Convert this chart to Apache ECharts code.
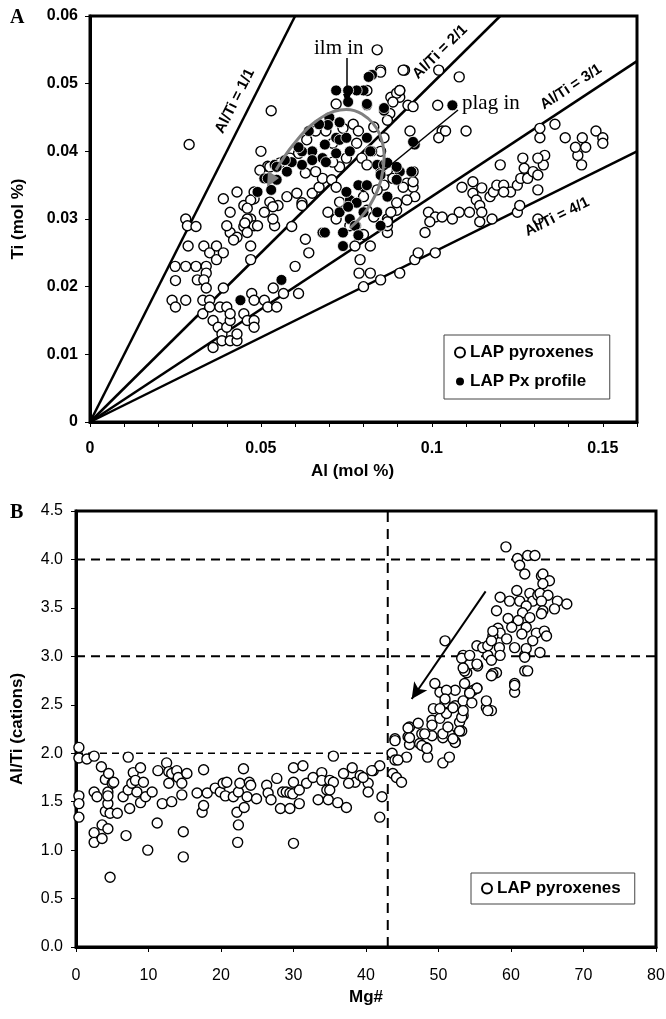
<!DOCTYPE html>
<html>
<head>
<meta charset="utf-8">
<title>LAP pyroxenes</title>
<script src="https://cdn.jsdelivr.net/npm/echarts@6/dist/echarts.min.js"></script>
<style>
html, body { margin: 0; padding: 0; background: #fff; }
#main { width: 666px; height: 1019px; }
</style>
</head>
<body>
<div id="main"></div>
<script>
// panel A: Ti vs Al (mol %)
var pyxA = [
	[0.029,0.041],[0.053,0.046],[0.050,0.040],[0.052,0.0378],[0.043,0.034],[0.039,0.033],[0.028,0.030],[0.0285,0.029],
	[0.041,0.031],[0.045,0.032],[0.048,0.033],[0.051,0.031],[0.055,0.032],[0.047,0.030],
	[0.024,0.018],[0.025,0.017],[0.028,0.018],[0.025,0.0209],[0.0249,0.023],[0.028,0.023],[0.0287,0.026],[0.031,0.0289],
	[0.031,0.023],[0.0314,0.021],[0.0333,0.026],[0.035,0.025],[0.034,0.023],[0.034,0.022],[0.0333,0.021],[0.034,0.0198],
	[0.033,0.018],[0.033,0.016],[0.035,0.018],[0.035,0.017],[0.037,0.026],[0.037,0.024],[0.039,0.025],[0.039,0.0198],
	[0.036,0.015],[0.036,0.011],[0.0375,0.014],[0.0386,0.013],[0.040,0.014],[0.0386,0.012],[0.041,0.012],[0.043,0.012],
	[0.043,0.013],[0.041,0.015],[0.038,0.017],[0.040,0.017],[0.041,0.016],[0.045,0.016],[0.046,0.015],[0.048,0.015],
	[0.048,0.014],[0.0473,0.019],[0.048,0.018],[0.051,0.018],[0.052,0.017],[0.0546,0.017],[0.0536,0.0198],[0.0566,0.019],
	[0.061,0.019],[0.060,0.023],[0.064,0.025],[0.063,0.027],
	[0.041,0.028],[0.043,0.0273],[0.042,0.0269],[0.048,0.029],[0.045,0.0289],[0.040,0.029],[0.046,0.030],[0.049,0.029],
	[0.054,0.029],[0.047,0.024],[0.047,0.026],
	[0.079,0.024],[0.0787,0.022],[0.082,0.022],[0.080,0.020],[0.085,0.021],[0.0906,0.022],[0.095,0.024],[0.096,0.025],
	[0.101,0.025],[0.087,0.028],[0.087,0.029],[0.082,0.026],[0.080,0.0277],[0.0775,0.026],[0.098,0.028],[0.114,0.0296],
	[0.084,0.055],[0.085,0.052],[0.092,0.052],[0.102,0.052],[0.108,0.051],[0.0906,0.049],[0.088,0.048],[0.0906,0.048],
	[0.093,0.0468],[0.1017,0.0468],[0.0936,0.043],[0.103,0.043],[0.102,0.042],[0.104,0.043],[0.110,0.043],[0.0877,0.0456],
	[0.087,0.0446],[0.0927,0.0353],[0.0945,0.0347],[0.095,0.0333],[0.0897,0.0313],[0.087,0.030],
	[0.1088,0.0347],[0.112,0.0355],[0.112,0.0338],[0.1146,0.0346],[0.113,0.0328],[0.117,0.0333],[0.118,0.034],[0.119,0.035],
	[0.121,0.035],[0.123,0.034],[0.125,0.035],[0.126,0.036],[0.128,0.036],[0.127,0.0375],[0.1296,0.037],[0.1326,0.038],
	[0.133,0.0394],[0.131,0.039],[0.131,0.0365],[0.1266,0.039],[0.120,0.038],[0.131,0.0343],[0.1316,0.042],[0.1316,0.0434],
	[0.136,0.044],[0.139,0.042],[0.144,0.042],[0.1427,0.0394],[0.1438,0.038],[0.142,0.0406],[0.145,0.0406],[0.148,0.043],
	[0.150,0.042],[0.150,0.0412],
	[0.108,0.031],[0.111,0.031],[0.114,0.032],[0.1146,0.031],[0.1176,0.030],[0.125,0.031],[0.1257,0.032],[0.121,0.034],
	[0.131,0.030],[0.099,0.031],[0.101,0.0303],[0.103,0.0303],[0.0994,0.0296],[0.106,0.030],
	[0.085,0.0517],[0.081,0.049],[0.072,0.047],
	[0.066,0.043],[0.0634,0.0417],[0.061,0.0397],[0.0585,0.039],[0.0556,0.0383],[0.0526,0.0377],[0.0497,0.0372],[0.048,0.034],
	[0.047,0.0328],[0.0526,0.0325],[0.0576,0.0333],[0.0605,0.0338],[0.062,0.0324],[0.065,0.0338],[0.067,0.0347],[0.068,0.036],
	[0.0707,0.0358],[0.066,0.037],[0.063,0.0368],[0.069,0.043],[0.071,0.0412],[0.074,0.0434],[0.077,0.044],[0.0785,0.043],
	[0.078,0.0412],[0.075,0.039],[0.073,0.0377],[0.071,0.0384],[0.0795,0.039],[0.081,0.038],[0.085,0.040],[0.086,0.042],
	[0.083,0.0436],[0.087,0.0372],[0.0886,0.036],[0.086,0.035],[0.084,0.0343],[0.080,0.0333],[0.072,0.0347],[0.073,0.0325],
	[0.081,0.0313],[0.083,0.0303],[0.076,0.029],[0.072,0.030],[0.0696,0.031],[0.087,0.0296],[0.088,0.031],[0.0897,0.0324],
	[0.0927,0.0328],[0.0916,0.0347],[0.0945,0.0355],[0.0945,0.037],[0.059,0.0289],[0.0535,0.0318],[0.062,0.032],[0.046,0.0316],
	[0.0453,0.0294],[0.046,0.028],[0.0535,0.030],[0.0897,0.0486],[0.0886,0.0473],[0.0916,0.052],[0.0906,0.049],[0.0945,0.0466]
];
var profA = [
	[0.054,0.038],[0.051,0.036],[0.049,0.034],[0.044,0.018],[0.056,0.021],[0.068,0.028],[0.074,0.028],[0.074,0.026],[0.0778,0.029],
	[0.106,0.0468],[0.095,0.041],[0.086,0.046],[0.0825,0.0513],[0.080,0.049],[0.078,0.049],[0.0755,0.049],[0.072,0.049],
	[0.081,0.0468],[0.081,0.042],[0.0825,0.040],[0.084,0.038],[0.0906,0.037],[0.094,0.037],[0.0897,0.0358],[0.085,0.0368],
	[0.086,0.038],[0.080,0.0347],[0.076,0.0328],[0.073,0.031],[0.080,0.031],[0.087,0.0333],
	[0.0815,0.051],[0.081,0.047],[0.0755,0.0473],[0.070,0.045],[0.073,0.0443],[0.0696,0.0439],[0.072,0.042],[0.0687,0.041],
	[0.073,0.0417],[0.076,0.040],[0.075,0.042],[0.065,0.040],[0.068,0.039],[0.062,0.038],[0.065,0.0387],[0.059,0.0384],
	[0.0576,0.037],[0.0546,0.0377],[0.0546,0.0358],[0.053,0.0343],[0.062,0.040],[0.069,0.0384],[0.072,0.0397],
	[0.082,0.040],[0.0785,0.035],[0.081,0.035],[0.075,0.034],[0.078,0.0324],[0.0755,0.0318],[0.076,0.030],[0.0687,0.028],
	[0.0775,0.029],[0.087,0.0383],[0.0897,0.0377],[0.085,0.0365],[0.086,0.0464],[0.0945,0.0414],[0.084,0.031],[0.085,0.029],
	[0.0785,0.0276],[0.067,0.044],[0.064,0.043],[0.061,0.0406],[0.057,0.0387],[0.052,0.036]
];
var ratios = [1, 2, 3, 4];          // Al/Ti reference lines
var ratioLabels = ['Al/Ti = 1/1', 'Al/Ti = 2/1', 'Al/Ti = 3/1', 'Al/Ti = 4/1'];

// panel B: Al/Ti vs Mg#
var pyxB = [
	[0.4,2.06],[0.4,1.95],[0.4,1.56],[0.4,1.48],[0.4,1.34],[1.5,1.94],[2.5,1.97],[2.5,1.60],[2.5,1.18],[2.5,1.08],[2.9,1.55],
	[3.5,1.86],[3.6,1.26],[3.6,1.12],[4.05,1.73],[4.05,1.40],[4.5,1.79],[4.4,1.60],[4.4,1.48],[4.4,1.56],[4.4,1.22],[4.7,0.72],
	[5.0,1.69],[5.2,1.70],[4.7,1.38],[5.7,1.38],[6.5,1.55],[6.9,1.15],[7.2,1.96],[7.2,1.62],[7.4,1.43],[7.7,1.69],[7.9,1.80],
	[8.2,1.72],[8.4,1.60],[8.9,1.85],[8.9,1.49],[9.3,1.70],[9.6,1.55],[9.9,1.00],[10.5,1.60],[11.2,1.28],[11.3,1.82],[11.9,1.48],
	[12.5,1.90],[12.8,1.81],[12.8,1.69],[13.2,1.79],[13.2,1.50],[13.9,1.82],[14.1,1.75],[14.6,1.69],[14.6,1.57],[14.8,1.19],
	[14.8,0.93],[15.3,1.79],[16.7,1.59],[17.4,1.39],[17.6,1.83],[17.6,1.46],[18.1,1.59],[19.2,1.64],[19.9,1.60],[20.3,1.69],
	[20.8,1.70],[20.6,1.56],[21.7,1.55],[22.2,1.39],[22.4,1.26],[22.3,1.08],[22.4,1.60],[22.6,1.69],[23.1,1.84],[23.2,1.44],
	[23.6,1.55],[23.9,1.70],[24.1,1.67],[24.9,1.53],[26.3,1.67],[26.5,1.59],[26.9,1.52],[27.7,1.74],[28.2,1.43],[28.5,1.60],
	[29.0,1.60],[29.5,1.43],[29.5,1.59],[30.0,1.85],[30.0,1.07],[30.0,1.70],[29.9,1.58],[30.8,1.48],[30.8,1.62],[31.3,1.87],
	[31.8,1.69],[32.7,1.75],[33.4,1.52],[33.9,1.80],[33.9,1.72],[34.6,1.62],[34.8,1.52],[35.0,1.72],[35.5,1.97],
	[35.5,1.70],[35.0,1.62],[36.1,1.49],[36.9,1.79],[37.3,1.44],[38.1,1.85],[38.5,1.70],[37.6,1.69],[39.2,1.77],[40.3,1.69],
	[40.3,1.60],[41.0,1.82],[41.9,1.87],[42.2,1.55],[41.9,1.34],[43.6,2.00],[44.0,1.93],[43.7,1.79],[44.2,1.75],[44.9,1.70],
	[45.6,1.96],[46.0,2.09],[47.4,2.10],[48.3,2.06],[48.5,1.96],[50.6,1.90],[51.5,1.96],[52.3,2.12],[39.6,1.75],[40.8,1.82],
	[44.0,2.15],[44.4,1.93],[45.8,2.17],[46.0,2.27],[47.2,2.31],[47.7,2.20],[47.7,2.08],[48.4,2.05],[49.1,2.18],[49.1,2.34],
	[49.3,2.46],[49.5,2.72],[50.2,2.63],[50.2,2.36],[50.6,2.16],[50.9,2.52],[51.1,2.41],[51.5,2.20],[52.3,2.49],[52.3,2.11],
	[52.9,2.32],[53.2,2.23],[53.4,2.39],[53.6,2.72],[53.4,2.54],[53.4,3.01],[53.9,2.83],[54.3,2.62],[54.6,2.52],[54.8,2.65],
	[55.3,2.67],[54.3,2.92],[55.4,2.90],[56.6,2.47],[56.6,2.54],[57.3,2.44],[56.8,3.01],[57.5,2.82],[57.3,2.96],[58.4,3.09],
	[58.0,2.83],[60.5,2.72],[60.5,2.63],[61.9,2.85],[62.3,2.85],[61.9,3.01],
	[59.3,4.13],[60.9,4.01],[62.3,4.04],[63.3,4.04],[61.2,3.94],[61.9,3.85],[64.2,3.83],[64.4,3.85],[65.3,3.78],[64.4,3.75],
	[58.5,3.61],[59.8,3.57],[60.8,3.68],[61.2,3.57],[62.6,3.65],[63.0,3.57],[63.7,3.63],[64.0,3.65],[65.1,3.63],[64.2,3.57],
	[66.4,3.57],[67.7,3.54],[66.0,3.49],[64.4,3.47],[64.2,3.44],[62.1,3.52],[58.0,3.47],[61.6,3.45],[62.6,3.40],[59.6,3.39],
	[61.0,3.37],[60.1,3.30],[62.1,3.30],[63.5,3.24],[64.6,3.26],[64.9,3.21],[58.2,3.29],[58.5,3.24],[57.5,3.21],[59.4,3.18],
	[61.5,3.23],[63.0,3.16],[60.5,3.09],[62.1,3.08],[64.0,3.04],[61.9,2.99],[55.3,3.11],[56.1,3.09],[56.8,3.11],[57.3,3.16],
	[57.5,3.26],[50.9,3.16],[58.5,3.01],[53.2,2.98],[54.3,3.01],[55.3,2.92],[53.6,2.85],[57.5,2.82],[60.5,2.70],[57.3,2.80],
	[53.4,2.88],[52.3,2.65],[51.1,2.65],[55.3,2.67],[54.3,2.62],[56.8,2.44],[50.9,2.56],[50.2,2.46],[52.0,2.47],[53.2,2.37],
	[53.4,2.44],[49.1,2.29],[45.8,2.26],[46.0,2.16],[48.1,2.20],[50.6,2.20],[51.3,2.27],[52.0,2.15],[52.9,2.23],[44.0,2.13]
];
var fullGuides = [4, 3];            // dashed Al/Ti levels across panel B
var lowGuide = 2, mgBreak = 43;     // short dashed level and Mg# break
var trendArrow = [[56.5, 3.67], [46.3, 2.56]];

var seriesNames = { pyxA: 'LAP pyroxenes', profA: 'LAP Px profile', pyxB: 'LAP pyroxenes' };

var SANS = 'Liberation Sans, Arial, sans-serif';
var SERIF = 'Liberation Serif, Times New Roman, serif';
var AL_MAX = 0.16, TI_MAX = 0.06;

// grid A box in pixels (used for the label angles)
var gA = { left: 90, top: 16, right: 29, height: 406 };
var gAw = 666 - gA.left - gA.right;

function ratioLine(r) {
	var ti = Math.min(TI_MAX, AL_MAX / r);
	return [[0, 0], [ti * r, ti]];
}
function fmtA(v) {
	var k = Math.round(v / 0.05);
	return Math.abs(v - k * 0.05) < 1e-9 ? String(+(k * 0.05).toFixed(2)) : '';
}

var openStyle = { color: '#fff', borderColor: '#000', borderWidth: 1.4, opacity: 1 };

var series = [];
ratios.forEach(function (r) {
	series.push({
		type: 'line', xAxisIndex: 0, yAxisIndex: 0,
		data: ratioLine(r), symbol: 'none', silent: true, z: 1,
		lineStyle: { color: '#000', width: 2.5 }
	});
});
series.push({
	name: 'pyxA', type: 'scatter', xAxisIndex: 0, yAxisIndex: 0,
	data: pyxA, symbol: 'circle', symbolSize: 10, itemStyle: openStyle, z: 3
});
series.push({
	name: 'profA', type: 'scatter', xAxisIndex: 0, yAxisIndex: 0,
	data: profA, symbol: 'circle', symbolSize: 11,
	itemStyle: { color: '#000', borderColor: '#fff', borderWidth: 0.8, opacity: 1 }, z: 4
});
fullGuides.forEach(function (g) {
	series.push({
		type: 'line', xAxisIndex: 1, yAxisIndex: 1, data: [[0, g], [80, g]],
		symbol: 'none', silent: true, z: 1,
		lineStyle: { color: '#000', width: 2, type: [9, 6] }
	});
});
series.push({
	type: 'line', xAxisIndex: 1, yAxisIndex: 1, data: [[0, lowGuide], [mgBreak, lowGuide]],
	symbol: 'none', silent: true, z: 1,
	lineStyle: { color: '#000', width: 1.6, type: [7, 5] }
});
series.push({
	type: 'line', xAxisIndex: 1, yAxisIndex: 1, data: [[mgBreak, 0], [mgBreak, 4.5]],
	symbol: 'none', silent: true, z: 1,
	lineStyle: { color: '#000', width: 2, type: [10, 7] }
});
series.push({
	name: 'pyxB', type: 'scatter', xAxisIndex: 1, yAxisIndex: 1,
	data: pyxB, symbol: 'circle', symbolSize: 10, itemStyle: openStyle, z: 3,
	markLine: {
		silent: true, symbol: ['none', 'arrow'], symbolSize: [12, 16],
		label: { show: false },
		lineStyle: { color: '#000', width: 2, type: 'solid' },
		data: [[{ coord: trendArrow[0] }, { coord: trendArrow[1] }]]
	}
});

var tickLabel = { color: '#000', fontFamily: SANS, fontSize: 16 };
var axisTitle = { color: '#000', fontFamily: SANS, fontSize: 17, fontWeight: 'bold' };

// text rotated along each Al/Ti line
var labelPos = [[235, 101], [440, 52], [571, 87], [557, 217]];
var graphics = [
	{ type: 'text', left: 10, top: 8, style: { text: 'A', font: 'bold 20px ' + SERIF, fill: '#000' } },
	{ type: 'text', left: 10, top: 503, style: { text: 'B', font: 'bold 20px ' + SERIF, fill: '#000' } },
	{ type: 'text', x: 314, y: 48, z: 100, style: { text: 'ilm in', font: '21px ' + SERIF, fill: '#000', verticalAlign: 'middle' } },
	{ type: 'line', shape: { x1: 347, y1: 58, x2: 347, y2: 96 }, z: 100, style: { stroke: '#000', lineWidth: 1.5 } },
	{ type: 'polygon', shape: { points: [[347, 105], [343, 94], [351, 94]] }, z: 100, style: { fill: '#000' } },
	{ type: 'text', x: 462, y: 103, z: 100, style: { text: 'plag in', font: '21px ' + SERIF, fill: '#000', verticalAlign: 'middle' } },
	{ type: 'line', shape: { x1: 458, y1: 110, x2: 382, y2: 172 }, z: 100, style: { stroke: '#000', lineWidth: 1.5 } },
	{ type: 'polyline', z: 100,
		shape: { points: [[350, 228], [370, 205], [383, 170], [380, 135], [362, 114], [340, 110], [315, 122], [293, 145], [276, 170]], smooth: 0.4 },
		style: { stroke: '#808080', lineWidth: 3, fill: null } },
	{ type: 'polygon', z: 100, shape: { points: [[267, 187], [279, 178], [268, 171]] }, style: { fill: '#808080' } }
];
ratios.forEach(function (r, i) {
	var ang = Math.atan((gA.height / TI_MAX / r) / (gAw / AL_MAX));
	graphics.push({
		type: 'text', x: labelPos[i][0], y: labelPos[i][1], rotation: ang, z: 100,
		style: { text: ratioLabels[i], font: 'bold 15px ' + SANS, fill: '#000', align: 'center', verticalAlign: 'middle' }
	});
});

var option = {
	backgroundColor: '#fff',
	animation: false,
	grid: [
		{ left: gA.left, top: gA.top, right: gA.right, height: gA.height, show: true, borderColor: '#000', borderWidth: 3, outerBoundsMode: 'none' },
		{ left: 76, top: 511, right: 10, bottom: 72, show: true, borderColor: '#000', borderWidth: 3, outerBoundsMode: 'none' }
	],
	xAxis: [
		{
			type: 'value', gridIndex: 0, min: 0, max: AL_MAX, interval: 0.01,
			axisLine: { show: true, lineStyle: { color: '#000', width: 3 } },
			axisTick: { show: true, length: 5, lineStyle: { color: '#000', width: 1 } },
			axisLabel: Object.assign({ fontWeight: 'bold', margin: 19, formatter: fmtA }, tickLabel),
			splitLine: { show: false },
			name: 'Al (mol %)', nameLocation: 'middle', nameGap: 41,
			nameTextStyle: Object.assign({ padding: [0, 22, 0, 0] }, axisTitle)
		},
		{
			type: 'value', gridIndex: 1, min: 0, max: 80, interval: 10,
			axisLine: { show: true, lineStyle: { color: '#000', width: 3 } },
			axisTick: { show: true, length: 5, lineStyle: { color: '#000', width: 1 } },
			axisLabel: Object.assign({ margin: 21 }, tickLabel),
			splitLine: { show: false },
			name: 'Mg#', nameLocation: 'middle', nameGap: 42, nameTextStyle: axisTitle
		}
	],
	yAxis: [
		{
			type: 'value', gridIndex: 0, min: 0, max: TI_MAX, interval: 0.01,
			axisLine: { show: true, lineStyle: { color: '#000', width: 3 } },
			axisTick: { show: true, length: 5, lineStyle: { color: '#000', width: 1 } },
			axisLabel: Object.assign({ fontWeight: 'bold', margin: 12 }, tickLabel),
			splitLine: { show: false },
			name: 'Ti (mol %)', nameLocation: 'middle', nameGap: 63, nameTextStyle: axisTitle
		},
		{
			type: 'value', gridIndex: 1, min: 0, max: 4.5, interval: 0.5,
			axisLine: { show: true, lineStyle: { color: '#000', width: 3 } },
			axisTick: { show: true, length: 5, lineStyle: { color: '#000', width: 1 } },
			axisLabel: Object.assign({ margin: 13, formatter: function (v) { return v.toFixed(1); } }, tickLabel),
			splitLine: { show: false },
			name: 'Al/Ti (cations)', nameLocation: 'middle', nameGap: 50, nameTextStyle: axisTitle
		}
	],
	legend: [
		{
			data: ['pyxA', 'profA'], formatter: function (n) { return seriesNames[n]; },
			orient: 'vertical', left: 444, top: 335, padding: [9, 16, 9, 10], itemGap: 12,
			itemWidth: 10, itemHeight: 10, selectedMode: false,
			backgroundColor: '#fff', borderColor: '#444', borderWidth: 1, borderRadius: 0,
			textStyle: { color: '#000', fontFamily: SANS, fontSize: 17, fontWeight: 'bold' }
		},
		{
			data: ['pyxB'], formatter: function (n) { return seriesNames[n]; },
			orient: 'vertical', left: 471, top: 873, padding: [7, 14, 7, 10],
			itemWidth: 10, itemHeight: 10, selectedMode: false,
			backgroundColor: '#fff', borderColor: '#444', borderWidth: 1, borderRadius: 0,
			textStyle: { color: '#000', fontFamily: SANS, fontSize: 17, fontWeight: 'bold' }
		}
	],
	graphic: graphics,
	series: series
};

var myChart = echarts.init(document.getElementById('main'), null, { renderer: 'canvas' });
myChart.setOption(option);
</script>
</body>
</html>
